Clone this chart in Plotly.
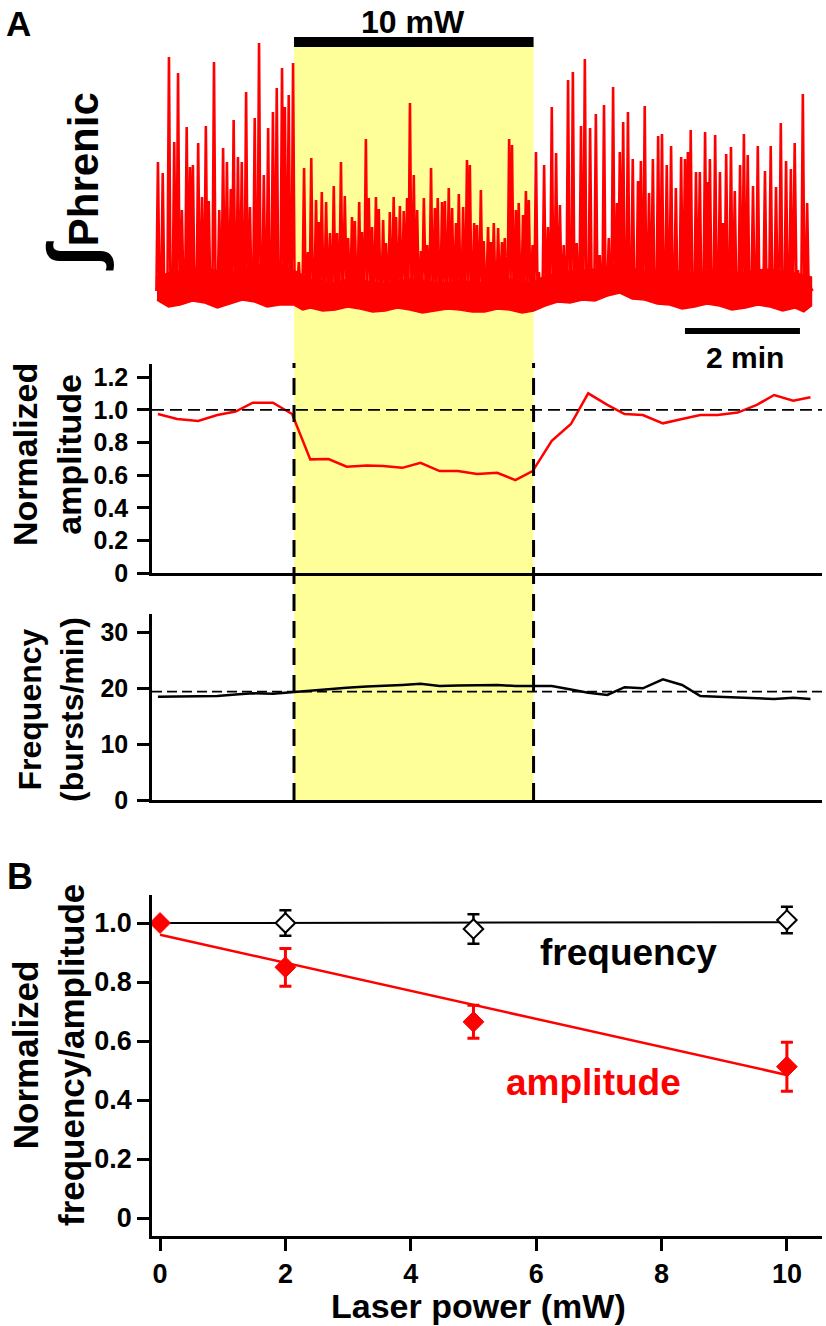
import plotly.graph_objects as go

W, H = 826, 1326
FONT = "Liberation Sans, Arial, Helvetica, sans-serif"
RED = "#FF0000"
YELLOW = "#FFFF99"

# ---------------- panel A: integrated phrenic trace ----------------
# burst peak times (s) and peak heights (a.u.)
burst_t = [
    # control
    1, 6, 12.5, 18, 22, 26, 31, 34.5, 37.5, 43, 47, 51, 54, 59.5, 65, 69, 73, 77,
    80, 84.5, 88.5, 93, 97, 102, 106.5, 111.5, 116, 121, 125, 130.5, 133.5, 137.5, 142,
    # laser on
    148, 153.5, 157.5, 161, 166, 169, 172, 176.5, 180.5, 184.5, 188, 192, 196, 199.5,
    203.5, 206.5, 211, 214, 218, 221, 224.5, 228.5, 231.5, 236, 239, 243, 247, 249.5,
    253.5, 257.5, 261, 264, 268, 271.5, 275.5, 278.5, 282, 286, 290, 293, 297.5, 300.5,
    304.5, 308, 312, 315, 319.5, 323.5, 326.5, 331, 334, 338, 341, 345.5, 348.5, 351.5,
    356, 360, 363, 367.5, 370.5, 374.5, 377.5, 382, 385, 388, 392,
    # recovery
    395.5, 398.5, 404, 408, 412, 416.5, 420.5, 424.5, 429, 434, 438, 442.5, 446.5, 452,
    458, 462, 466.5, 471.5, 476, 480, 483, 486.5, 491.5, 496.5, 502, 505, 509, 513.5,
    517.5, 523, 527, 532, 536.5, 541.5, 547, 551, 554, 557, 562.5, 566.5, 572, 575, 577,
    582.5, 587.5, 590.5, 594, 599, 603, 608.5, 612.5, 616.5, 622, 627, 634.5, 640.5, 646,
    651, 656.5, 661.5, 665.5, 669, 674, 678.5, 682.5,
]
burst_amp = [
    151, 140, 256, 171, 240, 103, 186, 146, 148, 170, 116, 187, 112, 251, 103, 165, 151, 124,
    193, 156, 151, 221, 106, 195, 270, 138, 185, 201, 225, 245, 206, 218, 250,
    51, 145, 61, 155, 113, 91, 121, 111, 80, 127, 80, 151, 117, 75,
    96, 92, 111, 81, 174, 115, 86, 116, 104, 93, 70, 101, 116, 96,
    107, 102, 115, 210, 138, 103, 62, 115, 68, 145, 105, 115, 111, 112,
    125, 105, 90, 119, 106, 153, 148, 90, 88, 123, 72, 86, 71, 90,
    85, 71, 75, 174, 168, 103, 110, 98, 122, 113, 68,
    161, 41, 148, 86, 206, 160, 108, 68, 233, 241, 70, 187, 254, 185,
    199, 58, 208, 75, 226, 110, 161, 191, 201, 154, 132, 152, 207, 120,
    154, 177, 179, 148, 167, 125, 156, 154, 161, 183, 141, 141, 181, 131, 154,
    178, 141, 90, 159, 166, 122, 148, 179, 158, 127, 167, 142, 167, 126,
    190, 152, 144, 170, 43, 219, 110, 25,
]

# dense baseline noise band (upper / lower envelope, a.u.)
band_t = [0, 12, 24, 37, 50, 63, 76, 89, 102, 115, 128, 143, 152, 160, 173, 186, 199,
          212, 225, 238, 251, 264, 277, 290, 303, 316, 329, 342, 355, 368, 381, 393,
          405, 418, 431, 444, 457, 470, 483, 496, 509, 522, 535, 548, 561, 574, 587,
          600, 614, 627, 640, 653, 666, 675, 683]
band_top = [36, 40, 42, 45, 46, 42, 40, 44, 47, 49, 50, 42, 38, 34, 32, 30, 34,
            33, 31, 29, 32, 34, 33, 31, 30, 33, 31, 30, 33, 34, 32, 31,
            37, 40, 42, 43, 44, 46, 50, 45, 42, 43, 44, 41, 40, 42, 43,
            40, 41, 43, 44, 41, 40, 38, 36]
band_bottom = [13, 6, 8, 12, 10, 5, 9, 13, 11, 6, 8, 8, 3, 5, 2, 3, 6,
               4, 1, 2, 5, 3, 0, 2, 4, 3, 1, 1, 4, 3, 0, 2,
               7, 11, 10, 13, 12, 17, 20, 14, 13, 9, 8, 4, 6, 9, 7,
               3, 5, 8, 6, 2, 5, 1, 7]
TROUGH = 22

laser_on, laser_off = 143, 393
scale_bar = [551, 671]  # 2 min

# 20 s bins
bin_t = [1, 21, 43, 63, 82, 100, 121, 141, 160, 179, 198, 219, 236, 256, 275, 295, 314, 334,
         355, 374, 392, 412, 432, 450, 470, 488, 507, 528, 548, 567, 585, 606, 626, 644, 664, 682]
norm_amp = [0.975, 0.945, 0.932, 0.969, 0.99, 1.045, 1.045, 0.975, 0.697, 0.699, 0.652, 0.66,
            0.656, 0.645, 0.676, 0.625, 0.625, 0.607, 0.615, 0.57, 0.625, 0.811, 0.914, 1.102,
            1.031, 0.975, 0.969, 0.918, 0.945, 0.969, 0.969, 0.984, 1.031, 1.092, 1.057, 1.078]
freq = [18.5, 18.5, 18.6, 18.6, 18.9, 19.1, 19.0, 19.3, 19.5, 19.8, 20.1, 20.3, 20.4, 20.6,
        20.8, 20.4, 20.5, 20.6, 20.6, 20.4, 20.4, 20.4, 19.8, 19.2, 18.8, 20.2, 20.0, 21.6,
        20.6, 18.6, 18.5, 18.4, 18.2, 18.1, 18.3, 18.1]
freq_baseline = 19.4

# ---------------- panel B ----------------
power = [0, 2, 5, 10]
amp_mean = [1.0, 0.85, 0.665, 0.513]
amp_sem = [0, 0.064, 0.056, 0.083]
freq_power = [2, 5, 10]
freq_mean = [1.0, 0.98, 1.01]
freq_sem = [0.043, 0.05, 0.045]
fit_x = [0, 10]
freq_fit = [1.0, 1.003]
amp_fit = [0.96, 0.485]


def px(p):
    return p / W


def py(p):
    return 1 - p / H


spike_x, spike_y = [], []
for t, a in zip(burst_t, burst_amp):
    spike_x += [t - 1.6, t, t + 1.6]
    spike_y += [TROUGH, a, TROUGH]

fig = go.Figure()
fig.add_trace(go.Scatter(x=band_t + band_t[::-1], y=band_top + band_bottom[::-1],
                         fill="toself", fillcolor=RED, mode="lines",
                         line=dict(color=RED, width=1.5), xaxis="x", yaxis="y"))
fig.add_trace(go.Scatter(x=spike_x, y=spike_y, mode="lines",
                         line=dict(color=RED, width=2.6), xaxis="x", yaxis="y"))
fig.add_trace(go.Scatter(x=bin_t, y=norm_amp, mode="lines",
                         line=dict(color=RED, width=2.5), xaxis="x2", yaxis="y2"))
fig.add_trace(go.Scatter(x=bin_t, y=freq, mode="lines",
                         line=dict(color="black", width=2.5), xaxis="x3", yaxis="y3"))

# panel B
fig.add_trace(go.Scatter(x=fit_x, y=freq_fit, mode="lines",
                         line=dict(color="black", width=2), xaxis="x4", yaxis="y4"))
fig.add_trace(go.Scatter(x=fit_x, y=amp_fit, mode="lines",
                         line=dict(color=RED, width=2.5), xaxis="x4", yaxis="y4"))
fig.add_trace(go.Scatter(x=freq_power, y=freq_mean, mode="markers",
                         marker=dict(symbol="diamond", size=15, color="white",
                                     line=dict(color="black", width=2)),
                         error_y=dict(type="data", array=freq_sem, color="black",
                                      thickness=2.5, width=6),
                         xaxis="x4", yaxis="y4"))
fig.add_trace(go.Scatter(x=power, y=amp_mean, mode="markers",
                         marker=dict(symbol="diamond", size=16, color=RED,
                                     line=dict(color=RED, width=1)),
                         error_y=dict(type="data", array=amp_sem, color=RED,
                                      thickness=3, width=6),
                         xaxis="x4", yaxis="y4"))

tick_font = dict(family=FONT, size=25, color="black", weight="bold")
tick_font_b = dict(family=FONT, size=27, color="black", weight="bold")
xdom = [px(152), px(822)]
trange = [-5.2, 694]

axis_common = dict(showgrid=False, zeroline=False, showline=True, linecolor="black",
                   linewidth=2.5, ticks="outside", ticklen=12, tickwidth=2.5,
                   tickcolor="black", automargin=False)

fig.update_layout(
    width=W, height=H, margin=dict(l=0, r=0, t=0, b=0, pad=0, autoexpand=False),
    paper_bgcolor="white", plot_bgcolor="rgba(0,0,0,0)", showlegend=False,
    font=dict(family=FONT, color="black"),
    xaxis=dict(domain=xdom, range=trange, visible=False, anchor="y"),
    yaxis=dict(domain=[py(318), py(35)], range=[-5, 278], visible=False, anchor="x"),
    xaxis2=dict(domain=xdom, range=trange, anchor="y2", showgrid=False, zeroline=False,
                showline=True, linecolor="black", linewidth=2.5, ticks="",
                showticklabels=False),
    yaxis2=dict(domain=[py(573), py(364)], range=[0, 1.282], anchor="x2",
                tickvals=[0, 0.2, 0.4, 0.6, 0.8, 1.0, 1.2],
                ticktext=["0", "0.2", "0.4", "0.6", "0.8", "1.0", "1.2"],
                tickfont=tick_font, ticklabelstandoff=4, **axis_common),
    xaxis3=dict(domain=xdom, range=trange, anchor="y3", showgrid=False, zeroline=False,
                showline=True, linecolor="black", linewidth=2.5, ticks="",
                showticklabels=False),
    yaxis3=dict(domain=[py(800), py(614)], range=[0, 33.3], anchor="x3",
                tickvals=[0, 10, 20, 30], tickfont=tick_font, ticklabelstandoff=4,
                **axis_common),
    xaxis4=dict(domain=xdom, range=[-0.128, 10.56], anchor="y4",
                tickvals=[0, 2, 4, 6, 8, 10], tickfont=tick_font_b, **axis_common),
    yaxis4=dict(domain=[py(1236), py(895)], range=[-0.061, 1.095], anchor="x4",
                tickvals=[0, 0.2, 0.4, 0.6, 0.8, 1.0],
                ticktext=["0", "0.2", "0.4", "0.6", "0.8", "1.0"],
                tickfont=tick_font_b, **axis_common),
)

shapes = [
    # laser shading
    dict(type="rect", xref="x", yref="paper", x0=laser_on, x1=laser_off,
         y0=py(800), y1=py(42), fillcolor=YELLOW, line=dict(width=0), layer="below"),
    # laser bar
    dict(type="rect", xref="x", yref="paper", x0=laser_on, x1=laser_off,
         y0=py(47), y1=py(37), fillcolor="black", line=dict(width=0)),
    # time scale bar
    dict(type="rect", xref="x", yref="paper", x0=scale_bar[0], x1=scale_bar[1],
         y0=py(334), y1=py(328), fillcolor="black", line=dict(width=0)),
    # reference lines
    dict(type="line", xref="x2 domain", yref="y2", x0=0, x1=1, y0=1.0, y1=1.0,
         line=dict(color="black", width=1.8, dash="12px,6px")),
    dict(type="line", xref="x3 domain", yref="y3", x0=0, x1=1, y0=freq_baseline,
         y1=freq_baseline, line=dict(color="black", width=1.8, dash="10px,5px")),
]
for t in (laser_on, laser_off):
    shapes.append(dict(type="line", xref="x", yref="paper", x0=t, x1=t,
                       y0=py(800), y1=py(363),
                       line=dict(color="black", width=3, dash="17px,10px")))
fig.update_layout(shapes=shapes)


def label(text, x, y, size, color="black", angle=0, xanchor="center"):
    fig.add_annotation(text=text, x=px(x), y=py(y), xref="paper", yref="paper",
                       showarrow=False, textangle=angle, xanchor=xanchor, yanchor="middle",
                       font=dict(family=FONT, size=size, color=color, weight="bold"))


label("A", 4, 23, 35, xanchor="left")
label("B", 5, 876, 36, xanchor="left")
label("10 mW", 413, 22, 32)
label('<span style="font-size:72px">∫</span>Phrenic', 74, 182, 42, angle=-90)
label("Normalized<br>amplitude", 47, 455, 34, angle=-90)
label("Frequency<br>(bursts/min)", 51, 710, 32, angle=-90)
label("2 min", 745, 358, 30)
label("Normalized<br>frequency/amplitude", 48, 1055, 35, angle=-90)
label("frequency", 628, 952, 37)
label("amplitude", 593, 1082, 37, color=RED)
label("Laser power (mW)", 478, 1306, 34)

page_fix = ("document.documentElement.style.overflow='hidden';"
            "document.body.style.margin='0';"
            "document.body.style.height='1326px';"
            "document.body.style.overflow='hidden';")
fig.write_html("out.html", config={"displayModeBar": False}, post_script=page_fix)
